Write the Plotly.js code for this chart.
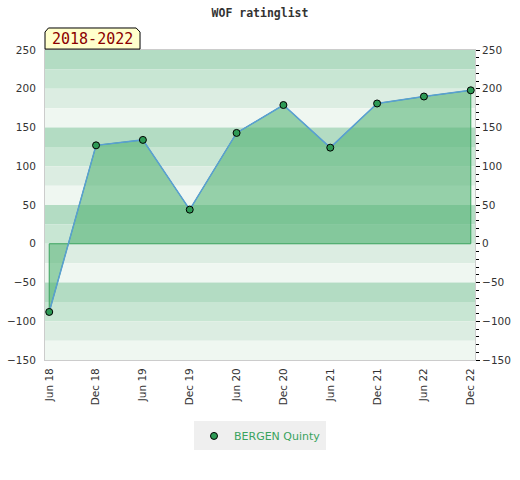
<!DOCTYPE html>
<html>
<head>
<meta charset="utf-8">
<script src="https://cdn.plot.ly/plotly-3.0.1.min.js"></script>
<style>
  html, body { margin: 0; padding: 0; background: #ffffff; }
  #chart { width: 520px; height: 480px; }
</style>
</head>
<body>
<div id="chart"></div>
<script>
// ---- data ----
const categories = ["Jun 18", "Dec 18", "Jun 19", "Dec 19", "Jun 20", "Dec 20", "Jun 21", "Dec 21", "Jun 22", "Dec 22"];
const ratings = [-88, 127, 134, 44, 143, 179, 124, 181, 190, 198];
const seriesName = "BERGEN Quinty";
const chartTitle = "WOF ratinglist";
const periodLabel = "2018-2022";
const yTicks = [-150, -100, -50, 0, 50, 100, 150, 200, 250];

// ---- styles ----
const bandColors = ["#b3dcc3", "#c8e6d3", "#dcede2", "#eff7f1"];
const yMin = -150, yMax = 250, bandStep = 25;

const shapes = [];
for (let top = yMax, k = 0; top > yMin; top -= bandStep, k++) {
  shapes.push({
    type: "rect", xref: "paper", yref: "y", layer: "below",
    x0: 0, x1: 1, y0: top - bandStep, y1: top,
    fillcolor: bandColors[k % 4], line: { width: 0 }
  });
}
// period tab (paper coords; plot area 430 x 310 px)
shapes.push({
  type: "path", xref: "paper", yref: "paper", layer: "above",
  path: "M 0 1.003 L 0 1.058 L 0.008 1.071 L 0.212 1.071 L 0.221 1.058 L 0.221 1.003 Z",
  fillcolor: "#ffffcc", line: { color: "#000000", width: 1 }
});

// fill polygon built from the data
const polyX = [categories[0]].concat(categories, [categories[categories.length - 1], categories[0]]);
const polyY = [0].concat(ratings, [0, 0]);

const traces = [
  {
    x: polyX, y: polyY, type: "scatter", mode: "lines",
    fill: "toself", fillcolor: "rgba(78,177,112,0.56)",
    line: { color: "#3aa35e", width: 1 },
    hoverinfo: "skip", showlegend: false
  },
  {
    x: categories, y: ratings, type: "scatter", mode: "lines",
    line: { color: "#5a9fd4", width: 1.5 },
    showlegend: false
  },
  {
    x: categories, y: ratings, type: "scatter", mode: "markers",
    yaxis: "y2", name: seriesName,
    marker: { color: "#2e9a55", size: 7, line: { color: "#000000", width: 1 } }
  }
];

const tickFont = { family: "DejaVu Sans", size: 10.5, color: "#333333" };

const layout = {
  width: 520, height: 480,
  margin: { l: 45, r: 45, t: 50, b: 120, pad: 0 },
  paper_bgcolor: "#ffffff",
  plot_bgcolor: "#ffffff",
  title: {
    text: chartTitle,
    font: { family: "DejaVu Sans Mono", size: 11.5, color: "#333333", weight: "bold" },
    x: 0.5, xanchor: "center", y: 0.973, yanchor: "middle", yref: "container"
  },
  xaxis: {
    type: "category",
    range: [-0.09, 9.09],
    tickangle: -90,
    tickfont: tickFont,
    showgrid: false, zeroline: false,
    showline: true, linecolor: "#cccccc", linewidth: 1, mirror: true,
    ticks: "", ticklabelstandoff: 3
  },
  yaxis: {
    range: [yMin, yMax],
    tickvals: yTicks,
    tickfont: tickFont,
    showgrid: false, zeroline: false,
    showline: true, linecolor: "#cccccc", linewidth: 1, mirror: true,
    ticks: "", ticklabelstandoff: 6
  },
  yaxis2: {
    overlaying: "y", side: "right", anchor: "x",
    range: [yMin, yMax],
    tickvals: yTicks,
    tickfont: tickFont,
    showgrid: false, zeroline: false, showline: false,
    ticks: "outside", ticklen: 4, tickcolor: "#000000", tickwidth: 1,
    minor: { dtick: 10, ticks: "outside", ticklen: 3, tickcolor: "#000000", tickwidth: 1, showgrid: false }
  },
  showlegend: true,
  legend: {
    orientation: "h",
    x: 0.5, xanchor: "center",
    y: -0.245, yanchor: "middle",
    bgcolor: "#efefef",
    font: { family: "DejaVu Sans", size: 11, color: "#3aa35e" },
    itemwidth: 30
  },
  shapes: shapes,
  annotations: [{
    xref: "paper", yref: "paper",
    x: 0.1105, y: 1.036, xanchor: "center", yanchor: "middle",
    text: periodLabel, showarrow: false,
    font: { family: "DejaVu Sans Mono", size: 15, color: "#8b0000" }
  }]
};

Plotly.newPlot("chart", traces, layout, { staticPlot: true, displayModeBar: false });
</script>
</body>
</html>
